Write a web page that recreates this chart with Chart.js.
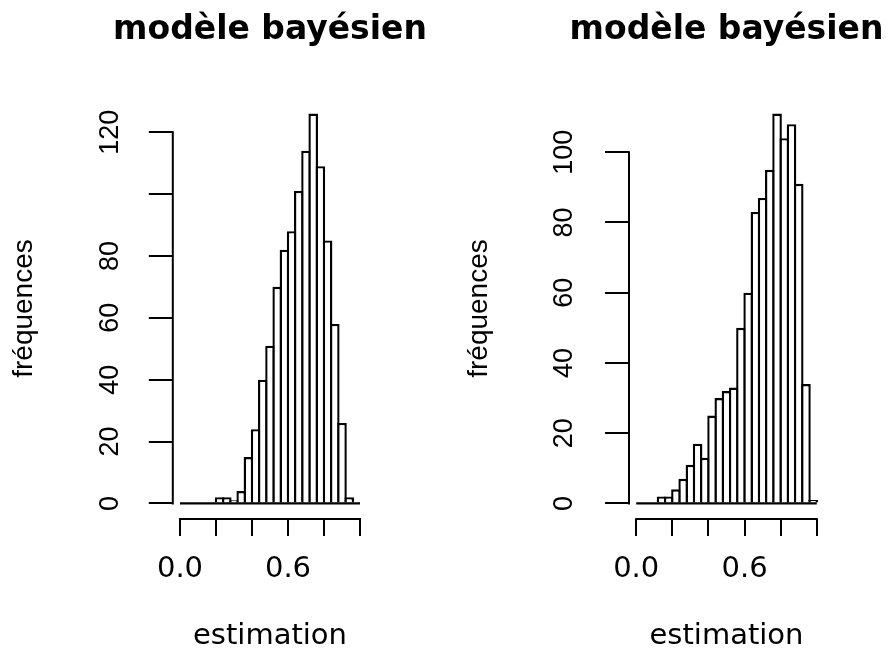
<!DOCTYPE html>
<html lang="fr">
<head>
<meta charset="utf-8">
<title>modèle bayésien</title>
<script src="https://cdn.jsdelivr.net/npm/chart.js@4.4.1/dist/chart.umd.min.js"></script>
<style>
  html, body { margin: 0; padding: 0; background: #fff; }
  #wrap { position: relative; width: 891px; height: 651px; overflow: hidden; }
  canvas { position: absolute; top: 0; }
</style>
</head>
<body>
<div id="wrap">
  <canvas id="gauche" width="445" height="651" style="left:0;width:445px;height:651px"></canvas>
  <canvas id="droite" width="446" height="651" style="left:445px;width:446px;height:651px"></canvas>
</div>
<script>
// bornes des classes de l'histogramme (pas de 0.04)
const breaks = [0.00, 0.04, 0.08, 0.12, 0.16, 0.20, 0.24, 0.28, 0.32, 0.36, 0.40, 0.44, 0.48,
                0.52, 0.56, 0.60, 0.64, 0.68, 0.72, 0.76, 0.80, 0.84, 0.88, 0.92, 0.96, 1.00];

// effectifs par classe (1000 estimations chacun)
const countsLeft  = [0, 0, 0, 0, 0, 2, 2, 1, 4, 15, 24, 40, 51, 70, 82, 88, 101, 114, 126, 109, 85, 58, 26, 2, 0];
const countsRight = [0, 0, 0, 2, 2, 4, 7, 11, 17, 13, 25, 30, 32, 33, 50, 60, 83, 87, 95, 111, 104, 108, 91, 34, 1];

const xTicks = [0, 0.2, 0.4, 0.6, 0.8, 1.0];
const xTickLabels = ['0.0', '', '', '0.6', '', ''];
const yTicksLeft = [0, 20, 40, 60, 80, 100, 120];
const yTickLabelsLeft = ['0', '20', '40', '60', '80', '', '120'];
const yTicksRight = [0, 20, 40, 60, 80, 100];
const yTickLabelsRight = ['0', '20', '40', '60', '80', '100'];

const mainTitle = 'modèle bayésien';
const xTitle = 'estimation';
const yTitle = 'fréquences';

const horizFont = 'DejaVu Sans';
const vertFont = 'Liberation Sans';

// axes façon R : trait seulement entre première et dernière graduation,
// titre principal centré sur la zone de tracé
const rStyle = {
  id: 'rStyle',
  afterDraw(chart) {
    const {ctx, chartArea, scales: {x, y}} = chart;
    ctx.save();
    ctx.strokeStyle = '#000';
    ctx.lineWidth = 2;
    ctx.lineCap = 'square';
    ctx.beginPath();
    ctx.moveTo(x.getPixelForValue(x.ticks[0].value), x.top);
    ctx.lineTo(x.getPixelForValue(x.ticks[x.ticks.length - 1].value), x.top);
    ctx.moveTo(y.right, y.getPixelForValue(y.ticks[0].value));
    ctx.lineTo(y.right, y.getPixelForValue(y.ticks[y.ticks.length - 1].value));
    ctx.stroke();

    ctx.fillStyle = '#000';
    ctx.font = `bold 33px "${horizFont}"`;
    ctx.textAlign = 'center';
    ctx.textBaseline = 'alphabetic';
    ctx.fillText(mainTitle, (chartArea.left + chartArea.right) / 2, 39);
    ctx.restore();
  }
};

function histogram(id, counts, yTicks, yTickLabels, geom) {
  const xlo = breaks[0], xhi = breaks[breaks.length - 1];
  const ymax = Math.max(...counts);
  const bins = counts.map((c, i) => ({x: (breaks[i] + breaks[i + 1]) / 2, y: c}));

  return new Chart(document.getElementById(id), {
    type: 'bar',
    data: {
      datasets: [
        {
          type: 'bar',
          data: bins,
          backgroundColor: '#fff',
          borderColor: '#000',
          borderWidth: 2.4,
          borderSkipped: 'start',
          barPercentage: 1.33,   // bords voisins superposés, comme rect() dans R
          categoryPercentage: 1,
          inflateAmount: 0,
          order: 2
        },
        {
          // ligne de base (classes vides comprises)
          type: 'line',
          data: [{x: xlo, y: 0}, {x: xhi, y: 0}],
          borderColor: '#000',
          borderWidth: 2.2,
          pointRadius: 0,
          order: 1
        }
      ]
    },
    options: {
      responsive: false,
      animation: false,
      layout: { padding: { left: 0, right: geom.padRight, top: 98, bottom: 0 } },
      plugins: {
        legend: { display: false },
        tooltip: { enabled: false }
      },
      scales: {
        x: {
          type: 'linear',
          offset: false,
          min: xlo - 0.04 * (xhi - xlo),
          max: xhi + 0.04 * (xhi - xlo),
          afterBuildTicks: s => { s.ticks = xTicks.map(v => ({value: v})); },
          afterFit: s => { s.height = 132; },
          border: { display: false },
          grid: { offset: false, drawOnChartArea: false, tickLength: 17, color: '#000', lineWidth: 2 },
          ticks: {
            autoSkip: false, maxRotation: 0, padding: 16, color: '#000',
            font: { family: horizFont, size: 29 },
            callback: (v, i) => xTickLabels[i]
          },
          title: {
            display: true, text: xTitle, color: '#000', padding: 0,
            font: { family: horizFont, size: 29, lineHeight: 1 }
          }
        },
        y: {
          type: 'linear',
          min: -0.04 * ymax,
          max: 1.04 * ymax,
          afterBuildTicks: s => { s.ticks = yTicks.map(v => ({value: v})); },
          afterFit: s => { s.width = geom.yWidth; },
          border: { display: false },
          grid: { drawOnChartArea: false, tickLength: 24, color: '#000', lineWidth: 2 },
          ticks: {
            autoSkip: false, minRotation: 90, maxRotation: 90, crossAlign: 'center',
            padding: geom.tickPad, color: '#000',
            font: { family: vertFont, size: 27 },
            callback: (v, i) => yTickLabels[i]
          },
          title: {
            display: true, text: yTitle, color: '#000',
            padding: { top: geom.titlePad, bottom: 0 },
            font: { family: vertFont, size: 28, lineHeight: 1 }
          }
        }
      }
    },
    plugins: [rStyle]
  });
}

histogram('gauche', countsLeft, yTicksLeft, yTickLabelsLeft,
  { yWidth: 172.8, padRight: 77.8, tickPad: 16, titlePad: 10 });
histogram('droite', countsRight, yTicksRight, yTickLabelsRight,
  { yWidth: 184, padRight: 67, tickPad: 18, titlePad: 20 });
</script>
</body>
</html>
